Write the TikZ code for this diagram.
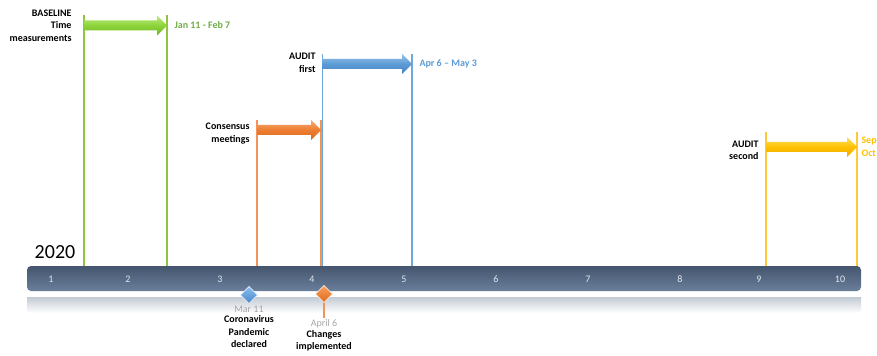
\documentclass[tikz,border=0pt]{standalone}
\usepackage{fontspec}
\setmainfont{Carlito}
\usetikzlibrary{shapes.geometric}

\definecolor{bartop}{HTML}{45556E}
\definecolor{barbot}{HTML}{6A7F9B}
\definecolor{barnum}{HTML}{E2E7EE}
\definecolor{shadowgray}{HTML}{C3CAD3}
\definecolor{greenline}{HTML}{8CC63F}
\definecolor{greentext}{HTML}{70AD47}
\definecolor{blueline}{HTML}{6FA8DC}
\definecolor{bluetext}{HTML}{5B9BD5}
\definecolor{orangeline}{HTML}{F0945A}
\definecolor{yellowline}{HTML}{FFC83A}
\definecolor{yellowtext}{HTML}{FFC000}
\definecolor{datagray}{HTML}{A6A6A6}

\tikzset{every picture/.style={line width=0.75pt}}
\tikzset{
  phaseline/.style={line width=1.1pt},
  phaselabel/.style={font=\fontsize{7.5}{9.4}\selectfont\bfseries, align=right, anchor=east, inner sep=0pt},
  datelabel/.style={font=\fontsize{7.5}{9.4}\selectfont\bfseries, align=left, anchor=west, inner sep=0pt},
  ticklabel/.style={font=\fontsize{7.5}{9}\selectfont, text=barnum, inner sep=0pt},
  timebar/.style={rounded corners=3pt, top color=bartop, bottom color=barbot, minimum width=625.5pt, minimum height=18.75pt, inner sep=0pt},
  milestone/.style={diamond, minimum size=13pt, inner sep=0pt, draw=white, line width=0.4pt},
  eventlabel/.style={font=\fontsize{7.5}{9.4}\selectfont\bfseries, align=center, inner sep=0pt}
}

\begin{document}
\begin{tikzpicture}[x=0.75pt,y=0.75pt,yscale=-1,xscale=1]
\useasboundingbox (0,0) rectangle (877,356);

% Shadow under the bar
\shade [top color=shadowgray, bottom color=white] (27,297) rectangle (861,313);
% Timeline bar
\node [timebar] (bar) at (444,278.5) {};
\foreach \x/\n in {51/1,128/2,220/3,312/4,404/5,496/6,588/7,680/8,759/9,840/10}
  \node [ticklabel] (t\n) at (\x,279.5) {\n};

% Text Node
\node [font=\fontsize{15}{18}\selectfont] (year) at (55,252) {2020};

% Phase tops
\coordinate (g1) at (84,15);
\coordinate (g2) at (167,15);
\coordinate (o1) at (257,120);
\coordinate (o2) at (321,120);
\coordinate (b1) at (322.5,54);
\coordinate (b2) at (412,54);
\coordinate (y1) at (766,132);
\coordinate (y2) at (857,132);

% Vertical lines
\draw [phaseline, greenline] (g1) -- (g1 |- bar.north);
\draw [phaseline, greenline] (g2) -- (g2 |- bar.north);
\draw [phaseline, orangeline] (o1) -- (o1 |- bar.north);
\draw [phaseline, orangeline] (o2) -- (o2 |- bar.north);
\draw [phaseline, blueline] (b1) -- (b1 |- bar.north);
\draw [phaseline, blueline] (b2) -- (b2 |- bar.north);
\draw [phaseline, yellowline] (y1) -- (y1 |- bar.north);
\draw [phaseline, yellowline] (y2) -- (y2 |- bar.north);

%Right Arrow
\shade [top color={rgb,255:red,190;green,235;blue,130}, bottom color={rgb,255:red,112;green,180;blue,40}, middle color={rgb,255:red,140;green,212;blue,58}] (84,20.5) -- (157,20.5) -- (157,15.5) -- (167,25.5) -- (157,35.5) -- (157,30.5) -- (84,30.5) -- cycle ;
%Right Arrow
\shade [top color={rgb,255:red,150;green,195;blue,235}, bottom color={rgb,255:red,70;green,132;blue,195}, middle color={rgb,255:red,91;green,155;blue,213}] (322.5,59) -- (402,59) -- (402,54) -- (412,64) -- (402,74) -- (402,69) -- (322.5,69) -- cycle ;
%Right Arrow
\shade [top color={rgb,255:red,248;green,170;blue,115}, bottom color={rgb,255:red,215;green,105;blue,30}, middle color={rgb,255:red,237;green,125;blue,49}] (257,125) -- (311,125) -- (311,120) -- (321,130) -- (311,140) -- (311,135) -- (257,135) -- cycle ;
%Right Arrow
\shade [top color={rgb,255:red,255;green,224;blue,100}, bottom color={rgb,255:red,238;green,172;blue,0}, middle color={rgb,255:red,255;green,192;blue,0}] (766,142) -- (847,142) -- (847,137) -- (857,147) -- (847,157) -- (847,152) -- (766,152) -- cycle ;

% Phase labels
\node [phaselabel] (baseline) at (72,25.5) {BASELINE\\Time\\measurements};
\node [phaselabel] (audit1) at (316,63) {AUDIT\\first};
\node [phaselabel] (consensus) at (250,133.5) {Consensus\\meetings};
\node [phaselabel] (audit2) at (759,150.5) {AUDIT\\second};

% Dates
\node [datelabel, text=greentext] (d1) at (174,25.5) {Jan 11 - Feb 7};
\node [datelabel, text=bluetext] (d2) at (419,64) {Apr 6 -- May 3};
\node [datelabel, text=yellowtext] (d3) at (861,147) {Sep 7 --\\Oct 4};

% Milestones
\coordinate (pinend) at (324,318);
\draw [orangeline, line width=1.1pt] (324,294) -- (pinend);
\node [milestone, top color={rgb,255:red,140;green,190;blue,240}, bottom color={rgb,255:red,70;green,135;blue,200}] (m1) at (249,295) {};
\node [milestone, top color={rgb,255:red,250;green,160;blue,90}, bottom color={rgb,255:red,220;green,105;blue,30}] (m2) at (324,294) {};
\node [font=\fontsize{7.5}{9}\selectfont, text=datagray, inner sep=0pt] (m1date) at (249,309.5) {Mar 11};
\node [eventlabel, anchor=north] (m1text) at (249,315) {Coronavirus\\Pandemic\\declared};
\node [font=\fontsize{7.5}{9}\selectfont, text=datagray, inner sep=0pt] (m2date) at (324,323.5) {April 6};
\node [eventlabel, anchor=north] (m2text) at (324,329.5) {Changes\\implemented};

\end{tikzpicture}
\end{document}
